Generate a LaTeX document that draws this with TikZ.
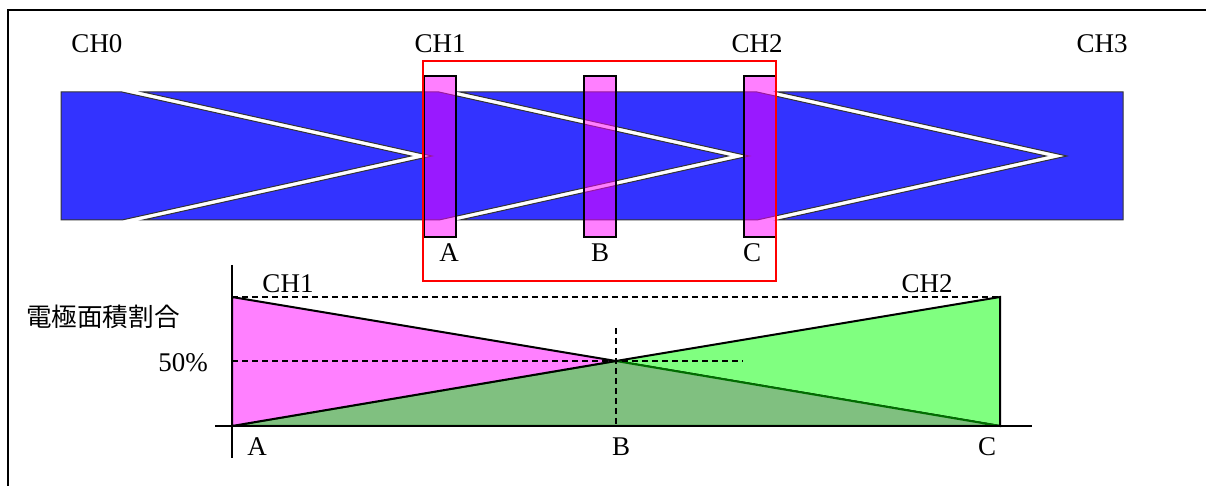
\documentclass[tikz,border=0pt]{standalone}
\usepackage{fontspec}
\setmainfont{Liberation Serif}
\newfontfamily\jpfont{Noto Sans CJK JP}
\usetikzlibrary{positioning}
\definecolor{elecblue}{RGB}{51,51,255}
\definecolor{padpink}{RGB}{255,0,255}
\definecolor{ratiopink}{RGB}{255,128,255}
\definecolor{ratiogreen}{RGB}{128,255,128}
\definecolor{overlapgreen}{RGB}{128,192,128}
\definecolor{edgegreen}{RGB}{0,110,0}

\begin{document}
\begin{tikzpicture}[
    x=0.5pt, y=-0.5pt,
    electrode/.style={fill=elecblue, draw=black!80, line width=0.5pt},
    pad/.style={draw=black, line width=0.9pt, fill=padpink, fill opacity=0.5,
                minimum width=16pt, minimum height=80.5pt, inner sep=0pt},
    lbl/.style={font=\fontsize{13.5}{16}\selectfont, inner sep=0pt},
    guide/.style={dashed, dash pattern=on 3pt off 2pt, line width=0.6pt},
    axisline/.style={line width=0.9pt}
  ]
    \useasboundingbox (0,0) rectangle (1206,486);
    % frame
    \draw[line width=1pt] (8,486) -- (8,10) -- (1206,10);

    % comb electrodes
    \draw[electrode] (61,92) -- (122,92) -- (411,156) -- (122,220) -- (61,220) -- cycle;
    \draw[electrode] (143,92) -- (439,92) -- (728,156) -- (439,220) -- (143,220) -- (432,156) -- cycle;
    \draw[electrode] (460,92) -- (757,92) -- (1046,156) -- (757,220) -- (460,220) -- (749,156) -- cycle;
    \draw[electrode] (778,92) -- (1123,92) -- (1123,220) -- (778,220) -- (1067,156) -- cycle;

    \node[lbl] (ch0) at (97,44) {CH0};
    \node[lbl] (ch1) at (440,44) {CH1};
    \node[lbl] (ch2) at (757,44) {CH2};
    \node[lbl] (ch3) at (1102,44) {CH3};

    % sensing pads
    \node[pad] (padA) at (440,156.5) {};
    \node[pad] (padB) at (600,156.5) {};
    \node[pad] (padC) at (760,156.5) {};
    \node[lbl] (lblA) at (449,253) {A};
    \node[lbl] (lblB) at (600,253) {B};
    \node[lbl] (lblC) at (752,253) {C};

    \node[draw=red, line width=1pt, minimum width=176.5pt, minimum height=110pt,
          inner sep=0pt] (window) at (599.5,171) {};

    % area ratio chart
    \coordinate (A0) at (232,426);
    \coordinate (Atop) at (232,297);
    \coordinate (Bmid) at (616,361);
    \coordinate (C0) at (1000,426);
    \coordinate (Ctop) at (1000,297);

    \filldraw[fill=ratiogreen, draw=black, line width=1pt] (Bmid) -- (Ctop) -- (C0) -- cycle;
    \filldraw[fill=overlapgreen, draw=edgegreen, line width=1pt] (A0) -- (Bmid) -- (C0) -- cycle;
    \filldraw[fill=ratiopink, draw=black, line width=1pt] (Atop) -- (Bmid) -- (A0) -- cycle;

    \draw[guide] (Atop) -- (Ctop);
    \draw[guide] (A0 |- Bmid) -- (743,361);
    \draw[guide] (616,328) -- (616,426);

    \draw[axisline] (232,265) -- (232,458);
    \draw[axisline] (215,426) -- (1032,426);

    \node[lbl] (ratioCH1) at (288,284) {CH1};
    \node[lbl] (ratioCH2) at (927,284) {CH2};
    \node[lbl, font=\jpfont\fontsize{12.8}{15}\selectfont] (ratio) at (103,317) {電極面積割合};
    \node[lbl] (half) at (183,363) {50\%};
    \node[lbl] (axA) at (257,447) {A};
    \node[lbl] (axB) at (621,447) {B};
    \node[lbl] (axC) at (987,447) {C};
  \end{tikzpicture}
\end{document}
